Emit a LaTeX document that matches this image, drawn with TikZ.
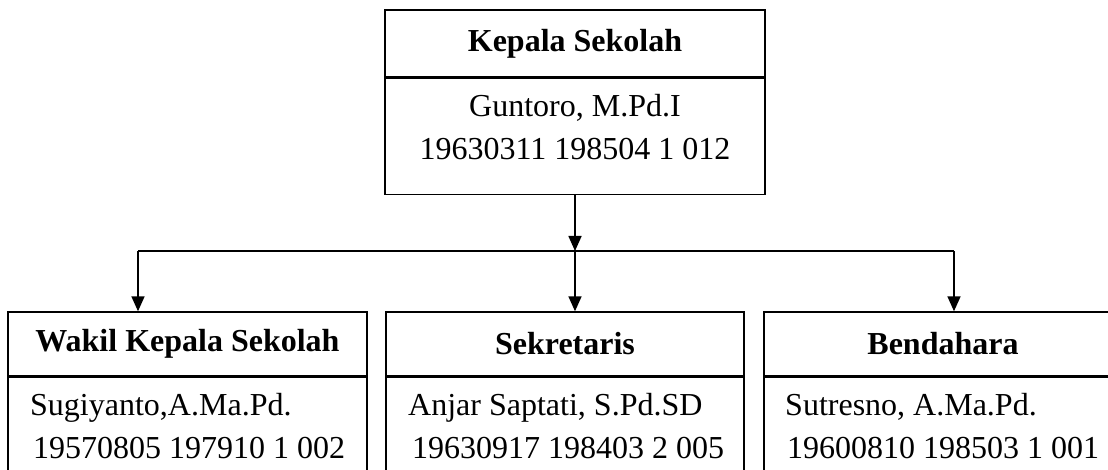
\documentclass[tikz,border=0pt]{standalone}
\usepackage{fontspec}
\setmainfont{Liberation Serif}
\usepackage{tikz}
\usetikzlibrary{arrows.meta,calc,positioning}

\begin{document}
\begin{tikzpicture}[x=1pt,y=-1pt,>={Triangle[length=15pt,width=13pt]},
    font=\fontsize{32}{43}\selectfont,
    headbox/.style={draw,line width=1.4pt,rectangle,minimum height=64pt,inner sep=0pt,font=\fontsize{32}{43}\selectfont\bfseries},
    bodybox/.style={draw,line width=1.4pt,rectangle,minimum height=140pt,inner sep=0pt},
    nametext/.style={align=left,inner sep=0pt,anchor=base west},
    link/.style={line width=1.6pt}]
  \useasboundingbox (0,0) rectangle (1108,470);
  \clip (0,0) rectangle (1108,470);
  % kepala sekolah
  \node[headbox,minimum width=380pt,minimum height=67pt] (kepsek) at (575,43.5) {Kepala Sekolah};
  \node[bodybox,minimum width=380pt,minimum height=116pt,below=0pt of kepsek] (kepsekb) {};
  \node[align=center,inner sep=0pt,anchor=base] (kepsekn) at (575,160) {Guntoro, M.Pd.I\\19630311 198504 1 012};
  % bawahan
  \node[headbox,minimum width=359pt] (wakil) at (187.5,344) {Wakil Kepala Sekolah};
  \node[bodybox,minimum width=359pt,below=0pt of wakil] (wakilb) {};
  \node[headbox,minimum width=358pt] (sekre) at (565,344) {Sekretaris};
  \node[bodybox,minimum width=358pt,below=0pt of sekre] (sekreb) {};
  \node[headbox,minimum width=358pt] (benda) at (943,344) {Bendahara};
  \node[bodybox,minimum width=358pt,below=0pt of benda] (bendab) {};
  \node[nametext] (wakiln) at (30,458) {Sugiyanto,A.Ma.Pd.\\\hspace*{3pt}19570805 197910 1 002};
  \node[nametext] (sekren) at (408,458) {Anjar Saptati, S.Pd.SD\\\hspace*{4pt}19630917 198403 2 005};
  \node[nametext] (bendan) at (785,458) {Sutresno, A.Ma.Pd.\\\hspace*{2pt}19600810 198503 1 001};
  % garis
  \coordinate (junc) at (kepsekb.south |- 0,251);
  \coordinate (jl) at (138,251);
  \coordinate (jr) at (954,251);
  \draw[link,->] (kepsekb.south) -- (junc);
  \draw[link] (jl) -- (jr);
  \draw[link,->] (jl) -- (jl |- wakil.north);
  \draw[link,->] (junc) -- (junc |- sekre.north);
  \draw[link,->] (jr) -- (jr |- benda.north);
\end{tikzpicture}
\end{document}
